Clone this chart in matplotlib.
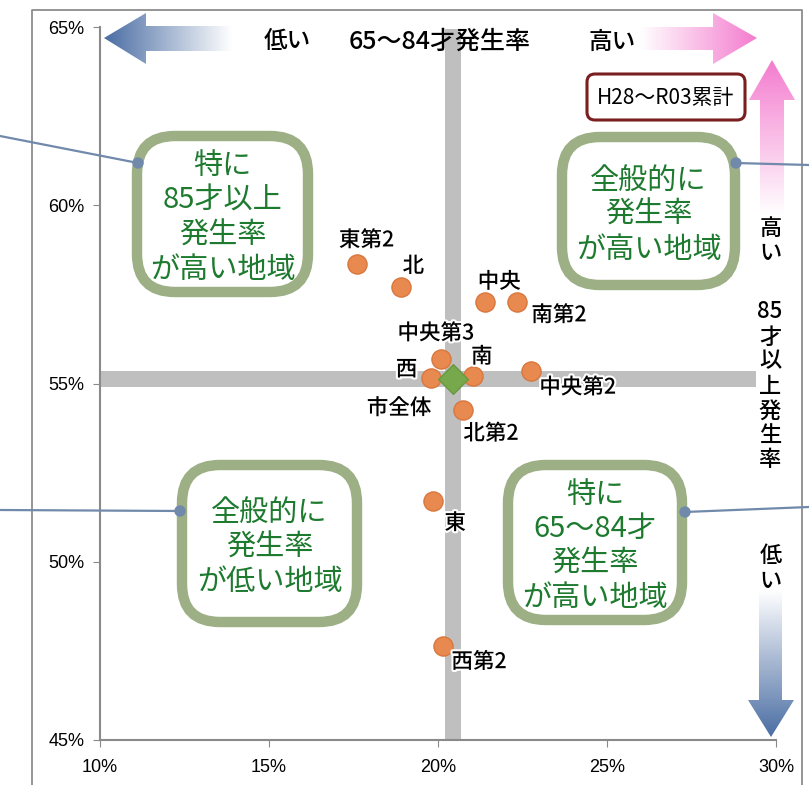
import matplotlib.pyplot as plt
import matplotlib.patheffects as pe
from matplotlib.patches import Polygon, FancyBboxPatch, Circle
from matplotlib.ticker import FuncFormatter
from matplotlib.colors import to_rgb
import numpy as np

plt.rcParams['font.family'] = ['Noto Sans CJK JP', 'DejaVu Sans']

# data: 65-84 rate (x, %) and 85+ rate (y, %) per district, H28-R03 cumulative
districts = ['東第2', '北', '中央', '南第2', '中央第3', '西', '南', '中央第2', '北第2', '東', '西第2']
rate_65_84 = [17.6, 18.9, 21.4, 22.35, 20.1, 19.8, 21.05, 22.75, 20.75, 19.85, 20.15]
rate_85_over = [58.35, 57.7, 57.3, 57.3, 55.7, 55.15, 55.2, 55.35, 54.25, 51.7, 47.65]
city_label = '市全体'
city_65_84 = 20.45
city_85_over = 55.12

x_ticks = [10, 15, 20, 25, 30]
y_ticks = [45, 50, 55, 60, 65]

# label offsets in points (dx, dy) and alignment
label_pos = {
    '東第2': (7, 17, 'center'), '北': (9, 15, 'center'), '中央': (10, 14, 'center'),
    '南第2': (10, -10, 'left'), '中央第3': (-4, 18, 'center'), '西': (-10, 6, 'right'),
    '南': (6, 14, 'center'), '中央第2': (6, -12, 'left'), '北第2': (0, -17, 'left'),
    '東': (16, -16, 'center'), '西第2': (6, -12, 'left'),
}

W, H = 809, 785
fig = plt.figure(figsize=(W / 100, H / 100), dpi=100)
ax = fig.add_axes([100 / W, 1 - 740 / H, 676 / W, 713 / H])
ax.set_xlim(10, 30)
ax.set_ylim(45, 65)
for s in ['top', 'right']:
    ax.spines[s].set_visible(False)
for s in ['left', 'bottom']:
    ax.spines[s].set_color('#8a8a8a')
    ax.spines[s].set_linewidth(1.5)
ax.set_xticks(x_ticks)
ax.set_yticks(y_ticks)
pct = FuncFormatter(lambda v, p: f'{v:.0f}%')
ax.xaxis.set_major_formatter(pct)
ax.yaxis.set_major_formatter(pct)
ax.tick_params(direction='out', length=5, color='#8a8a8a', labelsize=13)
ax.tick_params(axis='y', pad=6)
ax.tick_params(axis='x', pad=9)
for t in ax.get_xticklabels() + ax.get_yticklabels():
    t.set_family('Liberation Sans')
    t.set_fontsize(13)

# crosshair through the city total
ax.plot([10, 29.4], [city_85_over] * 2, color='#bfbfbf', lw=11.5, solid_capstyle='butt', zorder=1)
ax.plot([city_65_84] * 2, [45, 64.95], color='#bfbfbf', lw=11.5, solid_capstyle='butt', zorder=1)

ax.scatter(rate_65_84, rate_85_over, s=190, color='#e8894f', edgecolor='#d9773d', lw=1, zorder=3)
ax.scatter([city_65_84], [city_85_over], s=230, marker='D', color='#77a84c', edgecolor='#6a9a40', zorder=4)

halo = [pe.withStroke(linewidth=3, foreground='white')]
for name, xv, yv in zip(districts, rate_65_84, rate_85_over):
    dx, dy, ha = label_pos[name]
    ax.annotate(name, (xv, yv), xytext=(dx, dy), textcoords='offset points',
                ha=ha, va='center', fontsize=15.5, fontweight='medium', path_effects=halo, zorder=5)
ax.annotate(city_label, (city_65_84, city_85_over), xytext=(-39, -21), textcoords='offset points',
            ha='center', va='center', fontsize=15.5, fontweight='medium', path_effects=halo, zorder=5)

# decoration layer in pixel coordinates
deco = fig.add_axes([0, 0, 1, 1], zorder=2)
deco.axis('off')

# outer frame
deco.plot([32, 32, 802, 802], [H, 10, 10, H], color='#8c8c8c', lw=1.3)


def grad_arrow(pts, extent, c_from, c_to, horizontal):
    poly = Polygon(pts, closed=True, facecolor='none', edgecolor='none')
    deco.add_patch(poly)
    t = np.linspace(0, 1, 256)[:, None]
    cols = np.array(to_rgb(c_from)) * (1 - t) + np.array(to_rgb(c_to)) * t
    img = cols[None, :, :] if horizontal else cols[:, None, :]
    im = deco.imshow(img, extent=extent, aspect='auto', origin='upper', zorder=3)
    im.set_clip_path(poly)


# left blue arrow (low)
grad_arrow([(104, 38), (146, 13), (146, 26), (232, 26), (232, 51), (146, 51), (146, 64)],
           (104, 232, 64, 13), '#4a6da3', '#ffffff', True)
# right pink arrow (high)
grad_arrow([(757, 38), (713, 13), (713, 27), (640, 27), (640, 50), (713, 50), (713, 64)],
           (640, 757, 64, 13), '#ffffff', '#f47ccf', True)
# up pink arrow (high)
grad_arrow([(772, 60), (795, 100), (784, 100), (784, 215), (760, 215), (760, 100), (749, 100)],
           (749, 795, 215, 60), '#f47ccf', '#ffffff', False)
# down blue arrow (low)
grad_arrow([(771, 737), (794, 700), (782, 700), (782, 590), (759, 590), (759, 700), (748, 700)],
           (748, 794, 737, 590), '#ffffff', '#4a6da3', False)
deco.set_xlim(0, W)
deco.set_ylim(H, 0)

# axis captions
cap = dict(ha='center', va='center', fontsize=17, fontweight='medium')
deco.text(287, 42, '低い', **cap)
deco.text(440, 42, '65～84才発生率', **dict(cap, fontsize=18))
deco.text(612, 42, '高い', **cap)
vcap = dict(ha='center', va='center', fontsize=16, fontweight='medium')
for ch, yy in zip(['高', 'い'], [228, 254]):
    deco.text(771, yy, ch, **vcap)
for ch, yy in zip(['85', '才', '以', '上', '発', '生', '率'], [312, 337, 361, 386, 411, 435, 460]):
    deco.text(770, yy, ch, **vcap)
for ch, yy in zip(['低', 'い'], [556, 581]):
    deco.text(771, yy, ch, **vcap)

# period box
deco.add_patch(FancyBboxPatch((587, 74), 158, 46, boxstyle='round,pad=0,rounding_size=8',
                              facecolor='white', edgecolor='#7a1f1f', lw=2.2, zorder=3))
deco.text(666, 98, 'H28～R03累計', ha='center', va='center', fontsize=15, zorder=4)

# quadrant boxes with connector lines
boxes = [
    ((137, 136, 171, 156), '特に\n85才以上\n発生率\nが高い地域', (138, 163), (0, 136)),
    ((562, 137, 173, 148), '全般的に\n発生率\nが高い地域', (736, 163), (W, 165)),
    ((182, 465, 175, 157), '全般的に\n発生率\nが低い地域', (180, 511), (0, 510)),
    ((508, 465, 174, 155), '特に\n65～84才\n発生率\nが高い地域', (685, 512), (W, 507)),
]
for (bx, by, bw, bh), txt, dot, edge in boxes:
    deco.plot([edge[0], dot[0]], [edge[1], dot[1]], color='#7189ab', lw=1.6, zorder=3)
    deco.add_patch(FancyBboxPatch((bx, by), bw, bh, boxstyle='round,pad=0,rounding_size=38',
                                  facecolor='white', edgecolor='#9daf85', lw=7.5, zorder=4))
    deco.add_patch(Circle(dot, 5, color='#7189ab', zorder=5))
    deco.text(bx + bw / 2, by + bh / 2 + 4, txt, ha='center', va='center', fontsize=21,
              color='#1d7a2e', linespacing=1.2, zorder=6)

fig.savefig('out.png', dpi=100)
